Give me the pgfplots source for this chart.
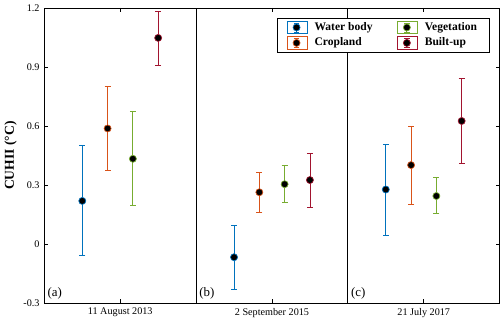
\documentclass[border=0pt]{standalone}
\usepackage{fontspec}
\setmainfont{Liberation Serif}
\usepackage{pgfplots}
\usepackage{pgfplotstable}
\pgfplotsset{compat=1.18}
\definecolor{cWater}{rgb}{0,0.447,0.741}
\definecolor{cCrop}{rgb}{0.85,0.325,0.098}
\definecolor{cVeg}{rgb}{0.466,0.674,0.188}
\definecolor{cBuilt}{rgb}{0.635,0.078,0.184}
\pgfplotstableread{
x y ep em
0.25 0.220 0.280 0.278
1.25 -0.066 0.164 0.163
2.25 0.278 0.230 0.235
}\water
\pgfplotstableread{
x y ep em
0.4167 0.588 0.215 0.212
1.4167 0.264 0.102 0.100
2.4167 0.402 0.198 0.202
}\crop
\pgfplotstableread{
x y ep em
0.5833 0.434 0.242 0.237
1.5833 0.305 0.093 0.091
2.5833 0.245 0.095 0.090
}\veg
\pgfplotstableread{
x y ep em
0.75 1.048 0.135 0.138
1.75 0.326 0.136 0.138
2.75 0.626 0.214 0.214
}\built
\pgfplotsset{
  errleg/.style={legend image code/.code={
    \path (0pt,-4.5pt) rectangle (15pt,4.5pt);
    \draw[##1, mark=none, solid, line width=0.6pt] (7pt,-3.3pt)--(7pt,3.3pt) (5pt,3.3pt)--(9pt,3.3pt) (5pt,-3.3pt)--(9pt,-3.3pt);
    \draw[##1] plot coordinates {(7pt,0pt)};
  }},
  series/.style={only marks, mark=*, draw=#1, mark size=2.6pt,
    mark options={fill=black, draw=#1, line width=0.5pt},
    error bars/error bar style={#1, line width=0.6pt},
    error bars/error mark options={rotate=90, mark size=2.2pt, #1, line width=0.6pt},
    errleg},
}
\begin{document}
\begin{tikzpicture}
\begin{axis}[
  scale only axis,
  width=335.25pt, height=217.5pt,
  xmin=0, xmax=3, ymin=-0.3, ymax=1.2,
  xtick={0.5,1.5,2.5},
  xticklabels={11 August 2013, 2 September 2015, 21 July 2017},
  ytick={-0.3,0,0.3,0.6,0.9,1.2},
  yticklabels={-0.3,0,0.3,0.6,0.9,1.2},
  tick align=inside,
  major tick length=3pt,
  tick style={black, line width=0.5pt},
  axis line style={black, line width=0.6pt},
  extra x ticks={1,2},
  extra x tick labels={},
  extra x tick style={grid=major, major grid style={black, line width=0.75pt}, major tick length=0pt},
  ticklabel style={font=\fontsize{7.5}{9}\selectfont},
  ylabel={\textbf{CUHII (°C)}},
  ylabel style={font=\fontsize{10}{12}\selectfont, yshift=-2pt},
  legend columns=2,
  transpose legend,
  legend cell align=left,
  legend style={at={(rel axis cs:0.978,0.966)}, anchor=north east,
    draw=black, line width=0.5pt,
    font=\fontsize{8.5}{9.5}\selectfont\bfseries,
    /tikz/every even column/.append style={column sep=16pt},
    /tikz/every odd column/.append style={column sep=3pt},
    inner xsep=7pt, inner ysep=1pt, row sep=0pt},
  error bars/y dir=both,
  error bars/y explicit,
]
\addplot[series=cWater] table[x=x, y=y, y error plus=ep, y error minus=em]{\water};
\addlegendentry{Water body}
\addplot[series=cCrop] table[x=x, y=y, y error plus=ep, y error minus=em]{\crop};
\addlegendentry{Cropland}
\addplot[series=cVeg] table[x=x, y=y, y error plus=ep, y error minus=em]{\veg};
\addlegendentry{Vegetation}
\addplot[series=cBuilt] table[x=x, y=y, y error plus=ep, y error minus=em]{\built};
\addlegendentry{Built-up}
\node[anchor=south west, font=\fontsize{9.5}{11}\selectfont, inner sep=1pt] at (axis cs:0.01,-0.29) {(a)};
\node[anchor=south west, font=\fontsize{9.5}{11}\selectfont, inner sep=1pt] at (axis cs:1.01,-0.29) {(b)};
\node[anchor=south west, font=\fontsize{9.5}{11}\selectfont, inner sep=1pt] at (axis cs:2.01,-0.29) {(c)};
\end{axis}
\end{tikzpicture}
\end{document}
